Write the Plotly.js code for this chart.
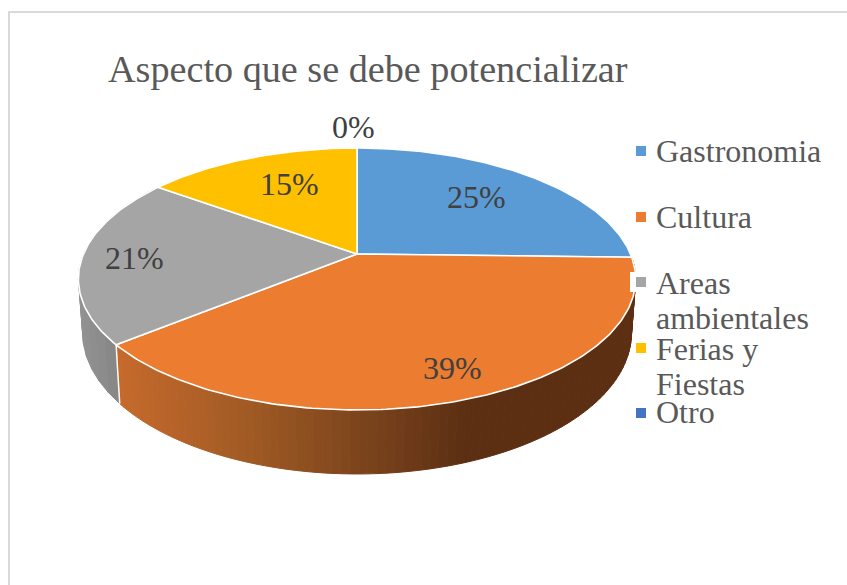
<!DOCTYPE html>
<html>
<head>
<meta charset="utf-8">
<script src="https://cdn.plot.ly/plotly-3.0.1.min.js"></script>
<style>html,body{margin:0;padding:0;background:#fff}#chart{width:847px;height:585px}</style>
</head>
<body>
<div id="chart"></div>
<script>
// ---- chart data ----
const categories = ['Gastronomia', 'Cultura', 'Areas ambientales', 'Ferias y Fiestas', 'Otro'];
const values = [25.4, 38.7, 20.9, 15, 0];
const colors = ['#5B9BD5', '#EB7C30', '#A5A5A5', '#FFC000', '#4472C4'];
const titleText = 'Aspecto que se debe potencializar';
const legendLines = [['Gastronomia'], ['Cultura'], ['Areas', 'ambientales'], ['Ferias y', 'Fiestas'], ['Otro']];

// ---- layout placement (pixel axes), not data ----
const cx = 357, cy = 254, A = 126.2, B = 273.5, P = 0.1908, DEPTH = 51.8, SHRINK = 0.985;
const labelX = [476, 452, 134, 289, 353];
const labelY = [197, 368, 258, 184, 127];
const swatchX = [641, 641, 641, 641, 641];
const swatchY = [151, 217, 282, 348, 413];
const legendTextY = [[151], [217], [283, 318], [349, 384], [412]];

const total = values.reduce((a, b) => a + b, 0);

function top3d(t) {            // t = clockwise fraction from 12 o'clock
  const a = t * 2 * Math.PI, u = Math.sin(a), s = -Math.cos(a), d = 1 - P * s;
  return [cx + B * u / d, cy + A * s / d];
}
function low3d(t) {
  const a = t * 2 * Math.PI, u = Math.sin(a), s = -Math.cos(a), d = 1 - P * s;
  return [cx + B * SHRINK * u / d, cy + (A * s + DEPTH) / d];
}
function mix(c1, c2, f) {
  return 'rgb(' + c1.map((v, i) => Math.round(v + (c2[i] - v) * f)).join(',') + ')';
}
function rimColor(i, px) {
  if (i === 1) { // orange wall: lit on the left, dark to the right
    const stops = [[118, [198, 106, 44]], [250, [160, 90, 36]], [360, [124, 68, 28]], [465, [92, 47, 19]], [640, [92, 47, 19]]];
    for (let k = 1; k < stops.length; k++) {
      if (px <= stops[k][0]) {
        return mix(stops[k - 1][1], stops[k][1], (px - stops[k - 1][0]) / (stops[k][0] - stops[k - 1][0]));
      }
    }
    return mix(stops[4][1], stops[4][1], 0);
  }
  if (i === 2) return mix([146, 146, 146], [134, 134, 134], Math.min(1, Math.max(0, (px - 80) / 40)));
  return colors[i];
}

const traces = [];
const bounds = [0];
values.forEach(v => bounds.push(bounds[bounds.length - 1] + v / total));

// side wall, drawn as narrow strips so it can carry the shading
[2, 1].forEach(i => {
  const t0 = bounds[i], t1 = bounds[i + 1];
  const strips = i === 1 ? 90 : 16;
  for (let k = 0; k < strips; k++) {
    const a = t0 + (t1 - t0) * k / strips, b = t0 + (t1 - t0) * (k + 1) / strips;
    const pts = [top3d(a), top3d((a + b) / 2), top3d(b), low3d(b), low3d((a + b) / 2), low3d(a)];
    const col = rimColor(i, (pts[1][0] + pts[4][0]) / 2);
    traces.push({
      type: 'scatter', mode: 'lines', x: pts.map(p => p[0]).concat(pts[0][0]), y: pts.map(p => p[1]).concat(pts[0][1]),
      fill: 'toself', fillcolor: col, line: { color: col, width: 1 }, hoverinfo: 'skip'
    });
  }
});

// white seam between the two visible wall segments
const seamT = bounds[2];
traces.push({
  type: 'scatter', mode: 'lines',
  x: [top3d(seamT)[0], low3d(seamT)[0]], y: [top3d(seamT)[1], low3d(seamT)[1]],
  line: { color: '#ffffff', width: 1.5 }, hoverinfo: 'skip'
});

// top face
values.forEach((v, i) => {
  if (v === 0) return;
  const xs = [cx], ys = [cy];
  const n = Math.max(8, Math.round(v * 4));
  for (let k = 0; k <= n; k++) {
    const p = top3d(bounds[i] + (bounds[i + 1] - bounds[i]) * k / n);
    xs.push(p[0]); ys.push(p[1]);
  }
  xs.push(cx); ys.push(cy);
  traces.push({
    type: 'scatter', mode: 'lines', name: categories[i], x: xs, y: ys, fill: 'toself',
    fillcolor: colors[i], line: { color: '#ffffff', width: 1.6 }, hoverinfo: 'name'
  });
});

// white knock-out behind the third legend key
traces.push({
  type: 'scatter', mode: 'lines', x: [630, 640, 640, 630, 630], y: [272, 272, 292, 292, 272],
  fill: 'toself', fillcolor: '#ffffff', line: { color: '#ffffff', width: 0 }, hoverinfo: 'skip'
});

// legend keys
traces.push({
  type: 'scatter', mode: 'markers', x: swatchX, y: swatchY, text: categories, hoverinfo: 'text',
  marker: { symbol: 'square', size: 10, color: colors, line: { width: 0 } }
});

const font = { family: '"Liberation Serif", "Times New Roman", serif' };
const annotations = [];
annotations.push({
  xref: 'x', yref: 'y', x: 106, y: 69, text: titleText, showarrow: false, xanchor: 'left', yanchor: 'middle',
  font: Object.assign({ size: 38.2, color: '#595959' }, font)
});
values.forEach((v, i) => annotations.push({
  xref: 'x', yref: 'y', x: labelX[i], y: labelY[i], text: Math.round(v / total * 100) + '%', showarrow: false,
  xanchor: 'center', yanchor: 'middle', font: Object.assign({ size: 32, color: '#404040' }, font)
}));
legendLines.forEach((lines, i) => lines.forEach((line, j) => annotations.push({
  xref: 'x', yref: 'y', x: 654, y: legendTextY[i][j], text: line, showarrow: false,
  xanchor: 'left', yanchor: 'middle', font: Object.assign({ size: 32, color: '#595959' }, font)
})));

const layout = {
  width: 847, height: 585, margin: { l: 0, r: 0, t: 0, b: 0 }, showlegend: false,
  paper_bgcolor: '#ffffff', plot_bgcolor: '#ffffff',
  xaxis: { range: [0, 847], visible: false, fixedrange: true },
  yaxis: { range: [585, 0], visible: false, fixedrange: true },
  annotations,
  shapes: [
    { type: 'line', xref: 'x', yref: 'y', x0: 9, x1: 9, y0: 12, y1: 585, line: { color: '#d9d9d9', width: 2 } },
    { type: 'line', xref: 'x', yref: 'y', x0: 8, x1: 847, y0: 12, y1: 12, line: { color: '#d9d9d9', width: 2 } }
  ]
};
Plotly.newPlot('chart', traces, layout, { displayModeBar: false, responsive: false });
</script>
</body>
</html>
